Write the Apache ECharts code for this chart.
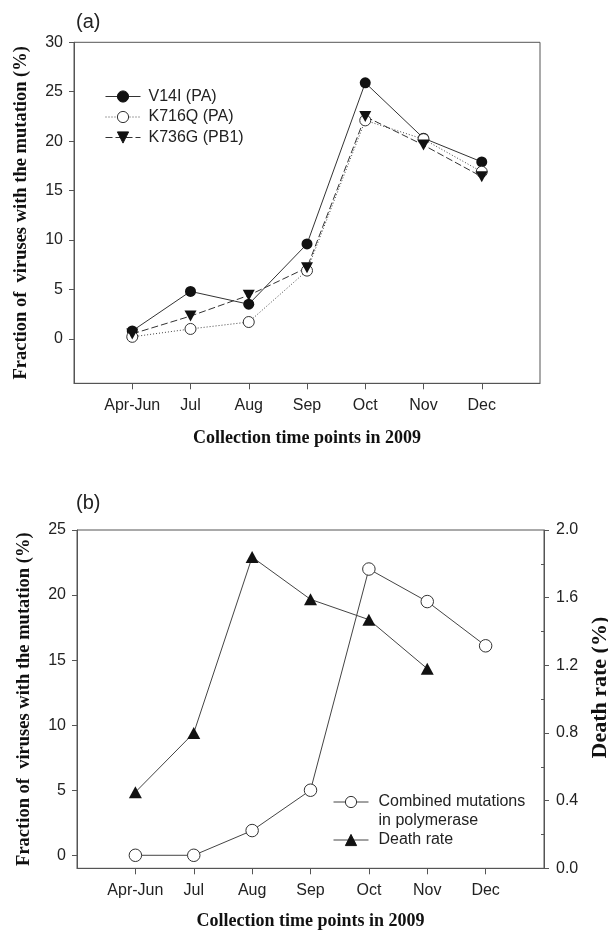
<!DOCTYPE html>
<html>
<head>
<meta charset="utf-8">
<script src="https://cdn.jsdelivr.net/npm/echarts@6/dist/echarts.min.js"></script>
<style>
html, body { margin: 0; padding: 0; background: #fff; }
#chart { width: 608px; height: 932px; }
</style>
</head>
<body>
<div id="chart"></div>
<script>
// categories (collection time points)
var months = ['Apr-Jun', 'Jul', 'Aug', 'Sep', 'Oct', 'Nov', 'Dec'];

// panel (a): fraction of viruses with each mutation (%)
var v14i = [0.8, 4.8, 3.5, 9.6, 25.9, 20.3, 17.9];
var k716q = [0.2, 1.0, 1.7, 6.9, 22.1, 20.2, 16.9];
var k736g = [0.5, 2.3, 4.4, 7.2, 22.5, 19.6, 16.4];

// panel (b): combined mutations (%) and death rate (%)
var combined = [0, 0, 1.9, 5.0, 22.0, 19.5, 16.1];
var deathRate = [0.45, 0.80, 1.84, 1.59, 1.47, 1.18];

// tick values
var monthTicks = [0, 1, 2, 3, 4, 5, 6];
var ticksA = [0, 5, 10, 15, 20, 25, 30];
var ticksB = [0, 5, 10, 15, 20, 25];
var ticksDeathMinor = [0.2, 0.6, 1.0, 1.4, 1.8];

var SANS = "'Liberation Sans', Arial, sans-serif";
var SERIF = "'Liberation Serif', 'Times New Roman', serif";
var AXIS_COLOR = '#555';
var TEXT_COLOR = '#222';
var COMBINED_NAME = 'Combined mutations\nin polymerase';

function pairs(arr) {
    return arr.map(function (v, i) { return [i, v]; });
}

// x axis shared look
function monthAxis(gridIndex, gap) {
    return {
        type: 'value', gridIndex: gridIndex, min: -1, max: 7,
        name: 'Collection time points in 2009', nameLocation: 'middle', nameGap: gap,
        nameTextStyle: { fontFamily: SERIF, fontWeight: 'bold', fontSize: 18, color: '#111' },
        axisLine: { onZero: false, lineStyle: { color: AXIS_COLOR, width: 1 } },
        axisTick: { customValues: monthTicks, length: 6, lineStyle: { color: AXIS_COLOR } },
        axisLabel: {
            customValues: monthTicks, margin: 14, fontFamily: SANS, fontSize: 16, color: TEXT_COLOR,
            formatter: function (v) { return months[v] || ''; }
        },
        splitLine: { show: false }
    };
}

var chart = echarts.init(document.getElementById('chart'), null, { renderer: 'canvas' });

var option = {
    animation: false,
    backgroundColor: '#fff',
    title: [
        { text: '(a)', left: 76, top: 10, padding: 0,
          textStyle: { fontFamily: SANS, fontSize: 20, fontWeight: 'normal', color: TEXT_COLOR, lineHeight: 24 } },
        { text: '(b)', left: 76, top: 491, padding: 0,
          textStyle: { fontFamily: SANS, fontSize: 20, fontWeight: 'normal', color: TEXT_COLOR, lineHeight: 24 } }
    ],
    grid: [
        { left: 74, right: 68, top: 42.3, height: 341, containLabel: false, outerBoundsMode: 'none',
          show: true, borderColor: AXIS_COLOR, borderWidth: 1, backgroundColor: 'transparent' },
        { left: 77, right: 64, top: 530, height: 338.3, containLabel: false, outerBoundsMode: 'none',
          show: true, borderColor: AXIS_COLOR, borderWidth: 1, backgroundColor: 'transparent' }
    ],
    legend: [
        {
            data: ['V14I (PA)', 'K716Q (PA)', 'K736G (PB1)'],
            orient: 'vertical', left: 105, top: 87.5, padding: 0,
            itemWidth: 35, itemHeight: 14, itemGap: 2.5,
            selectedMode: false,
            itemStyle: { borderWidth: 1 },
            lineStyle: { width: 1 },
            textStyle: { fontFamily: SANS, fontSize: 16, lineHeight: 18, color: TEXT_COLOR, padding: [0, 0, 0, 3] }
        },
        {
            data: [COMBINED_NAME, 'Death rate'],
            orient: 'vertical', left: 333, top: 773.5, padding: 0,
            itemWidth: 35, itemHeight: 14, itemGap: 0,
            selectedMode: false,
            itemStyle: { borderWidth: 1 },
            lineStyle: { width: 1 },
            // blank first line keeps the symbol level with "Combined mutations"
            formatter: function (name) { return name === COMBINED_NAME ? ' \n' + name : name; },
            textStyle: { fontFamily: SANS, fontSize: 16, lineHeight: 19, color: TEXT_COLOR, padding: [0, 0, 0, 5] }
        }
    ],
    xAxis: [monthAxis(0, 45.7), monthAxis(1, 44.4)],
    yAxis: [
        {
            type: 'value', gridIndex: 0, min: -4.5, max: 30,
            name: 'Fraction of  viruses with the mutation (%)', nameLocation: 'middle', nameGap: 43, nameRotate: 90,
            nameTextStyle: { fontFamily: SERIF, fontWeight: 'bold', fontSize: 18.5, color: '#111' },
            axisLine: { show: true, onZero: false, lineStyle: { color: AXIS_COLOR } },
            axisTick: { show: true, customValues: ticksA, length: 5, lineStyle: { color: AXIS_COLOR } },
            axisLabel: { customValues: ticksA, margin: 11, fontFamily: SANS, fontSize: 16, color: TEXT_COLOR },
            splitLine: { show: false }
        },
        {
            type: 'value', gridIndex: 1, min: -1, max: 25,
            name: 'Fraction of  viruses with the mutation (%)', nameLocation: 'middle', nameGap: 43, nameRotate: 90,
            nameTextStyle: { fontFamily: SERIF, fontWeight: 'bold', fontSize: 18.5, color: '#111' },
            axisLine: { show: true, onZero: false, lineStyle: { color: AXIS_COLOR } },
            axisTick: { show: true, customValues: ticksB, length: 5, lineStyle: { color: AXIS_COLOR } },
            axisLabel: { customValues: ticksB, margin: 11, fontFamily: SANS, fontSize: 16, color: TEXT_COLOR },
            splitLine: { show: false }
        },
        {
            type: 'value', gridIndex: 1, position: 'right', min: 0, max: 2, interval: 0.4,
            name: 'Death rate (%)', nameLocation: 'middle', nameGap: 39.5, nameRotate: 90,
            nameTextStyle: { fontFamily: SERIF, fontWeight: 'bold', fontSize: 22, color: '#111', padding: [0, 0, 0, 23] },
            axisLine: { show: true, onZero: false, lineStyle: { color: AXIS_COLOR } },
            axisTick: { show: true, length: 5, lineStyle: { color: AXIS_COLOR } },
            axisLabel: { margin: 12, fontFamily: SANS, fontSize: 16, color: TEXT_COLOR,
                formatter: function (v) { return v.toFixed(1); } },
            splitLine: { show: false }
        },
        {
            // small inward minor ticks on the death-rate axis
            type: 'value', gridIndex: 1, position: 'right', min: 0, max: 2,
            axisLine: { show: false, onZero: false },
            axisTick: { show: true, inside: true, length: 3, customValues: ticksDeathMinor, lineStyle: { color: AXIS_COLOR } },
            axisLabel: { show: false },
            splitLine: { show: false }
        }
    ],
    series: [
        {
            name: 'V14I (PA)', type: 'line', xAxisIndex: 0, yAxisIndex: 0, data: pairs(v14i),
            symbol: 'circle', symbolSize: 11,
            itemStyle: { color: '#111', borderColor: '#111', borderWidth: 0 },
            lineStyle: { color: '#333', width: 1, type: 'solid' }
        },
        {
            name: 'K716Q (PA)', type: 'line', xAxisIndex: 0, yAxisIndex: 0, data: pairs(k716q),
            symbol: 'circle', symbolSize: 11,
            itemStyle: { color: '#fff', borderColor: '#333', borderWidth: 1 },
            lineStyle: { color: '#444', width: 1, type: [1, 2] }
        },
        {
            name: 'K736G (PB1)', type: 'line', xAxisIndex: 0, yAxisIndex: 0, data: pairs(k736g),
            symbol: 'triangle', symbolRotate: 180, symbolSize: [12, 11],
            itemStyle: { color: '#111', borderColor: '#111', borderWidth: 0 },
            lineStyle: { color: '#333', width: 1, type: [7, 3] }
        },
        {
            name: COMBINED_NAME, type: 'line', xAxisIndex: 1, yAxisIndex: 1, data: pairs(combined),
            symbol: 'circle', symbolSize: 12.5,
            itemStyle: { color: '#fff', borderColor: '#333', borderWidth: 1 },
            lineStyle: { color: '#444', width: 1 }
        },
        {
            name: 'Death rate', type: 'line', xAxisIndex: 1, yAxisIndex: 2, data: pairs(deathRate),
            symbol: 'triangle', symbolSize: [13, 12],
            itemStyle: { color: '#111', borderColor: '#111', borderWidth: 0 },
            lineStyle: { color: '#444', width: 1 }
        }
    ]
};

chart.setOption(option);
</script>
</body>
</html>
